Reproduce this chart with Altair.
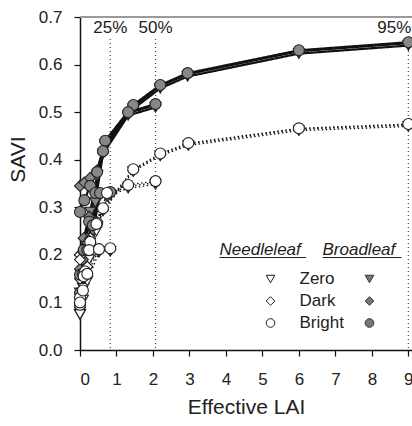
import altair as alt
import pandas as pd

# Broadleaf canopies (solid lines, grey markers): three model runs per background
BL_A_LAI = [0.0, 0.12, 0.28, 0.47, 0.69, 1.46, 2.2, 2.95, 6.0, 9.0]
BL_A_ZERO = [0.12, 0.20, 0.29, 0.366, 0.432, 0.507, 0.550, 0.575, 0.623, 0.640]
BL_A_DARK = [0.345, 0.352, 0.362, 0.378, 0.437, 0.512, 0.555, 0.580, 0.628, 0.645]
BL_A_BRIGHT = [0.29, 0.315, 0.345, 0.374, 0.440, 0.515, 0.557, 0.582, 0.630, 0.647]

BL_B_LAI = [0.0, 0.1, 0.25, 0.42, 0.63, 1.32, 2.07]
BL_B_ZERO = [0.10, 0.16, 0.235, 0.31, 0.412, 0.493, 0.510]
BL_B_DARK = [0.20, 0.235, 0.28, 0.33, 0.415, 0.498, 0.515]
BL_B_BRIGHT = [0.158, 0.21, 0.27, 0.33, 0.418, 0.500, 0.517]

BL_C_LAI = [0.0, 0.08, 0.2, 0.35, 0.55, 0.83]
BL_C_ZERO = [0.09, 0.13, 0.19, 0.25, 0.325, 0.326]
BL_C_DARK = [0.17, 0.19, 0.225, 0.265, 0.328, 0.33]
BL_C_BRIGHT = [0.12, 0.16, 0.21, 0.262, 0.33, 0.332]

# Needleleaf canopies (dotted lines, white markers)
NL_A_LAI = [0.0, 0.14, 0.28, 0.47, 0.63, 1.46, 2.2, 2.97, 6.0, 9.0]
NL_A_ZERO = [0.074, 0.15, 0.215, 0.26, 0.292, 0.375, 0.408, 0.430, 0.461, 0.470]
NL_A_DARK = [0.20, 0.21, 0.235, 0.265, 0.295, 0.378, 0.411, 0.433, 0.464, 0.473]
NL_A_BRIGHT = [0.095, 0.165, 0.227, 0.267, 0.298, 0.380, 0.413, 0.435, 0.466, 0.475]

NL_B_LAI = [0.0, 0.1, 0.25, 0.45, 0.74, 1.32, 2.07]
NL_B_ZERO = [0.08, 0.13, 0.19, 0.25, 0.322, 0.340, 0.348]
NL_B_DARK = [0.19, 0.205, 0.23, 0.27, 0.326, 0.344, 0.352]
NL_B_BRIGHT = [0.11, 0.155, 0.21, 0.265, 0.330, 0.347, 0.355]

NL_C_LAI = [0.0, 0.08, 0.2, 0.52, 0.83]
NL_C_ZERO = [0.075, 0.105, 0.145, 0.205, 0.207]
NL_C_DARK = [0.15, 0.16, 0.175, 0.209, 0.211]
NL_C_BRIGHT = [0.10, 0.125, 0.16, 0.212, 0.214]

# Canopy cover reference lines
COVER_LABELS = ["25%", "50%", "95%"]
COVER_LAI = [0.83, 2.07, 9.0]

BACKGROUNDS = ["Zero", "Dark", "Bright"]
LEAF_TYPES = ["Needleleaf", "Broadleaf"]
X_TICKS = [0, 1, 2, 3, 4, 5, 6, 7, 8, 9]
Y_TICKS = [0.0, 0.1, 0.2, 0.3, 0.4, 0.5, 0.6, 0.7]

curves = [
    ("Broadleaf", "A", BL_A_LAI, [BL_A_ZERO, BL_A_DARK, BL_A_BRIGHT]),
    ("Broadleaf", "B", BL_B_LAI, [BL_B_ZERO, BL_B_DARK, BL_B_BRIGHT]),
    ("Broadleaf", "C", BL_C_LAI, [BL_C_ZERO, BL_C_DARK, BL_C_BRIGHT]),
    ("Needleleaf", "A", NL_A_LAI, [NL_A_ZERO, NL_A_DARK, NL_A_BRIGHT]),
    ("Needleleaf", "B", NL_B_LAI, [NL_B_ZERO, NL_B_DARK, NL_B_BRIGHT]),
    ("Needleleaf", "C", NL_C_LAI, [NL_C_ZERO, NL_C_DARK, NL_C_BRIGHT]),
]

rows = []
for leaf, run, lai, series in curves:
    for bg, savi in zip(BACKGROUNDS, series):
        for x, y in zip(lai, savi):
            rows.append({"leaf": leaf, "background": bg, "run": run,
                         "group": f"{leaf}-{run}-{bg}", "lai": x, "savi": y,
                         "bg_rank": BACKGROUNDS.index(bg)})
df = pd.DataFrame(rows).sort_values("bg_rank", kind="stable").reset_index(drop=True)

cover = pd.DataFrame({"label": COVER_LABELS, "lai": COVER_LAI})

FONT = "Liberation Sans"
GREY = "#878787"

x_enc = alt.X("lai:Q", scale=alt.Scale(domain=[0, 9.1], nice=False),
              axis=alt.Axis(values=X_TICKS, title="Effective LAI", grid=False,
                            labelOverlap=False, labelSeparation=0,
                            tickSize=6, labelPadding=15, titlePadding=9,
                            labelFontSize=17, titleFontSize=21, labelFont=FONT,
                            titleFont=FONT, titleFontWeight="normal",
                            labelColor="#222", titleColor="#222",
                            domainColor="#111", tickColor="#111",
                            domainWidth=1.5, tickWidth=1.2))
y_enc = alt.Y("savi:Q", scale=alt.Scale(domain=[0, 0.7], nice=False),
              axis=alt.Axis(values=Y_TICKS, format=".1f", title="SAVI", grid=False,
                            labelOverlap=False,
                            tickSize=6, labelPadding=12,
                            labelFontSize=17, titleFontSize=21, labelFont=FONT,
                            titleFont=FONT, titleFontWeight="normal",
                            labelColor="#222", titleColor="#222",
                            titleX=-62, titleY=142, titleAngle=-90,
                            titleAlign="center", titleBaseline="middle",
                            domainColor="#111", tickColor="#111",
                            domainWidth=1.5, tickWidth=1.2))

# Frame line along the top of the plot
top_edge = alt.Chart(cover).mark_rule(color="#999", strokeWidth=1.5).encode(
    x=alt.value(0), x2=alt.value(332), y=alt.value(0))

cover_rules = alt.Chart(cover).mark_rule(
    color="#444", strokeWidth=1.2, strokeDash=[1, 3]).encode(
    x=x_enc, y=alt.value(22), y2=alt.value(333))

cover_text = alt.Chart(cover).transform_filter(
    alt.datum.label != "95%").mark_text(
    font=FONT, fontSize=17, color="#222", baseline="middle").encode(
    x=x_enc, y=alt.value(11), text="label:N")

cover_text_edge = alt.Chart(cover).transform_filter(
    alt.datum.label == "95%").mark_text(
    font=FONT, fontSize=17, color="#222", baseline="middle", align="right", dx=3).encode(
    x=x_enc, y=alt.value(11), text="label:N")

lines = alt.Chart(df).mark_line(color="#111").encode(
    x=x_enc, y=y_enc, detail="group:N", order="lai:Q",
    strokeDash=alt.StrokeDash("leaf:N", scale=alt.Scale(
        domain=LEAF_TYPES, range=[[1.5, 2.5], [1, 0]]), legend=None),
    strokeWidth=alt.StrokeWidth("leaf:N", scale=alt.Scale(
        domain=LEAF_TYPES, range=[1.3, 2.2]), legend=None))

points = alt.Chart(df).mark_point(
    filled=True, size=120, stroke="#222", strokeWidth=1.1, opacity=1).encode(
    x=x_enc, y=y_enc,
    shape=alt.Shape("background:N", scale=alt.Scale(
        domain=BACKGROUNDS, range=["triangle-down", "diamond", "circle"]), legend=None),
    fill=alt.Fill("leaf:N", scale=alt.Scale(
        domain=LEAF_TYPES, range=["white", GREY]), legend=None))

# Hand-placed key in the lower right of the plot
key_layers = []
legend_df = pd.DataFrame({"leaf": LEAF_TYPES})
for leaf, x0, x1 in [("Needleleaf", 139.5, 226), ("Broadleaf", 242.5, 321.5)]:
    one = legend_df[legend_df.leaf == leaf]
    key_layers.append(alt.Chart(one).mark_text(
        font=FONT, fontSize=17, fontStyle="italic", color="#222",
        align="left", baseline="alphabetic").encode(
        x=alt.value(x0), y=alt.value(238), text="leaf:N"))
    key_layers.append(alt.Chart(one).mark_rule(color="#222", strokeWidth=1.2).encode(
        x=alt.value(x0), x2=alt.value(x1), y=alt.value(240.5)))

key_shapes = ["triangle-down", "diamond", "circle"]
for i, bg in enumerate(BACKGROUNDS):
    row = pd.DataFrame({"background": [bg]})
    ypos = 262 + 22 * i
    key_layers.append(alt.Chart(row).mark_point(
        shape=key_shapes[i], filled=True, fill="white", stroke="#222",
        strokeWidth=1, size=75, opacity=1).encode(
        x=alt.value(190.5), y=alt.value(ypos)))
    key_layers.append(alt.Chart(row).mark_point(
        shape=key_shapes[i], filled=True, fill="#777", stroke="#333",
        strokeWidth=1, size=75, opacity=1).encode(
        x=alt.value(289.5), y=alt.value(ypos)))
    key_layers.append(alt.Chart(row).mark_text(
        font=FONT, fontSize=17, color="#222", align="left", baseline="middle").encode(
        x=alt.value(219.5), y=alt.value(ypos), text="background:N"))

chart = alt.layer(
    lines, cover_rules, top_edge, points, cover_text, cover_text_edge, *key_layers
).properties(
    width=332, height=333,
    autosize=alt.AutoSizeParams(type="none"),
    padding={"left": 80, "top": 17, "right": 0, "bottom": 76},
    background="white",
).configure_view(stroke=None)

chart.save("out.html", embed_options={"renderer": "svg", "actions": False})
